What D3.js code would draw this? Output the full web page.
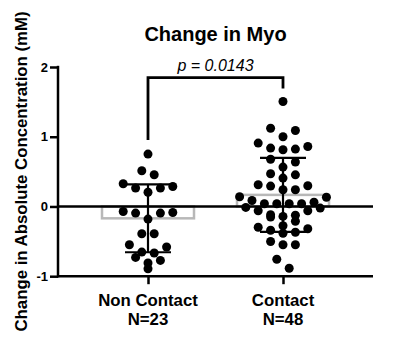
<!DOCTYPE html>
<html>
<head>
<meta charset="utf-8">
<script src="https://cdn.jsdelivr.net/npm/d3@7"></script>
<style>
  body { margin: 0; background: #fff; }
  svg text { font-family: Arial, "Liberation Sans", Helvetica, sans-serif; }
</style>
</head>
<body>
<div id="canvas"></div>
<script>
'use strict';

/* Data */
const categories = ['Non Contact', 'Contact'];
const groupSizes = ['N=23', 'N=48'];

const nonContactValues = [
    0.751, 0.512, 0.455, 0.325, 0.264, 0.204, 0.264, 0.287,
    -0.086, -0.095, -0.181, -0.095, -0.072, -0.391, -0.391,
    -0.549, -0.582, -0.654, -0.668, -0.731, -0.774, -0.811, -0.893
];

const contactValues = [
    1.505, 1.121, 1.090, 0.999, 0.837, 0.813, 0.860, 0.909, 0.823,
    0.677, 0.637, 0.565, 0.454, 0.469, 0.407,
    0.297, 0.239, 0.239, 0.292, 0.311,
    0.060, 0.132, 0.139, 0.086, 0.039, 0.039, 0.039, 0.039,
    -0.014, -0.062, -0.062, -0.023, -0.126, -0.143, -0.152, -0.119,
    -0.212, -0.277, -0.298, -0.384, -0.341, -0.320, -0.370,
    -0.549, -0.549, -0.502, -0.757, -0.886
];

const yTicks = [-1, 0, 1, 2];
const titleText = 'Change in Myo';
const yLabelText = 'Change in Absolute Concentration (mM)';
const pValueText = 'p = 0.0143';

/* Layout */
const config = {
    width: 400,
    height: 345,
    xLeft: 58,
    xRight: 373,
    yTop: 67,
    yBottom: 276.2,
    dotRadius: 4.5,
    rowSpacing: 12.4,
    rowHeight: 9.3,
    barWidth: 92,
    capWidth: 46
};

const groups = categories.map((name, i) => ({
    name: name,
    size: groupSizes[i],
    values: i === 0 ? nonContactValues : contactValues
}));

groups.forEach(g => {
    g.mean = d3.mean(g.values);
    g.sd = d3.deviation(g.values);
    g.max = d3.max(g.values);
});

const x = d3.scalePoint()
    .domain(categories)
    .range([config.xLeft, config.xRight])
    .padding(2 / 3);

const y = d3.scaleLinear()
    .domain([-1, 2])
    .range([config.yBottom, config.yTop]);

const svg = d3.select('#canvas').append('svg')
    .attr('width', config.width)
    .attr('height', config.height);

/* Scatter layout in rows, like the dot plot of the original */
function swarm(values) {
    const sorted = values.map(v => v).sort((a, b) => b - a);
    const rows = [];
    let row = [];
    sorted.forEach(v => {
        if (row.length && y(v) - y(row[0]) >= config.rowHeight) {
            rows.push(row);
            row = [];
        }
        row.push(v);
    });
    if (row.length) rows.push(row);

    const out = [];
    rows.forEach(r => {
        const asc = r.slice().sort((a, b) => a - b);
        const n = asc.length;
        const slots = [];
        if (n % 2 === 1) {
            slots.push(0);
            for (let k = 1; slots.length < n; k++) {
                slots.push(k);
                if (slots.length < n) slots.push(-k);
            }
        } else {
            for (let k = 0.5; slots.length < n; k++) {
                slots.push(k);
                if (slots.length < n) slots.push(-k);
            }
        }
        asc.forEach((v, i) => out.push({ value: v, slot: slots[i] }));
    });
    return out;
}

/* Bars (mean) */
svg.append('g')
    .selectAll('rect')
    .data(groups)
    .join('rect')
    .attr('x', d => x(d.name) - config.barWidth / 2)
    .attr('width', config.barWidth)
    .attr('y', d => Math.min(y(d.mean), y(0)))
    .attr('height', d => Math.abs(y(d.mean) - y(0)))
    .attr('fill', 'none')
    .attr('stroke', '#b8b8b8')
    .attr('stroke-width', 2.5);

/* Zero line */
svg.append('line')
    .attr('x1', config.xLeft)
    .attr('x2', config.xRight)
    .attr('y1', y(0))
    .attr('y2', y(0))
    .attr('stroke', '#000')
    .attr('stroke-width', 2.5);

/* Dots */
groups.forEach(g => {
    svg.append('g')
        .selectAll('circle')
        .data(swarm(g.values))
        .join('circle')
        .attr('cx', d => x(g.name) + d.slot * config.rowSpacing)
        .attr('cy', d => y(d.value))
        .attr('r', config.dotRadius)
        .attr('fill', '#000');
});

/* Error bars (mean +/- SD) */
const err = svg.append('g')
    .attr('stroke', '#000')
    .attr('stroke-width', 2.2);

groups.forEach(g => {
    const cx = x(g.name);
    err.append('line')
        .attr('x1', cx).attr('x2', cx)
        .attr('y1', y(g.mean + g.sd)).attr('y2', y(g.mean - g.sd));
    [g.mean + g.sd, g.mean - g.sd].forEach(v => {
        err.append('line')
            .attr('x1', cx - config.capWidth / 2)
            .attr('x2', cx + config.capWidth / 2)
            .attr('y1', y(v)).attr('y2', y(v));
    });
});

/* Axes */
const yAxis = svg.append('g')
    .attr('transform', `translate(${config.xLeft},0)`)
    .call(d3.axisLeft(y).tickValues(yTicks).tickSize(8).tickPadding(2).tickFormat(d => String(d)));

const xAxis = svg.append('g')
    .attr('transform', `translate(0,${config.yBottom})`)
    .call(d3.axisBottom(x).tickSize(8).tickFormat(''));

[yAxis, xAxis].forEach(ax => {
    ax.select('.domain').remove();
    ax.selectAll('.tick line').attr('stroke', '#000').attr('stroke-width', 2.5);
});

yAxis.selectAll('.tick text')
    .attr('fill', '#000')
    .style('font-size', '13px')
    .style('font-weight', 'bold');

svg.append('line')
    .attr('x1', config.xLeft).attr('x2', config.xLeft)
    .attr('y1', config.yTop - 1.2).attr('y2', config.yBottom + 1.2)
    .attr('stroke', '#000').attr('stroke-width', 2.5);

svg.append('line')
    .attr('x1', config.xLeft).attr('x2', config.xRight)
    .attr('y1', config.yBottom).attr('y2', config.yBottom)
    .attr('stroke', '#000').attr('stroke-width', 2.5);

/* Category labels */
const catLabels = svg.append('g')
    .selectAll('text')
    .data(groups)
    .join('text')
    .attr('x', d => x(d.name))
    .attr('text-anchor', 'middle')
    .style('font-size', '16.8px')
    .style('font-weight', 'bold');

catLabels.append('tspan')
    .attr('x', d => x(d.name))
    .attr('y', 306)
    .text(d => d.name);

catLabels.append('tspan')
    .attr('x', d => x(d.name))
    .attr('y', 325)
    .text(d => d.size);

/* Y label */
svg.append('text')
    .attr('transform', 'translate(27,171.5) rotate(-90)')
    .attr('text-anchor', 'middle')
    .style('font-size', '16.8px')
    .style('font-weight', 'bold')
    .text(yLabelText);

/* Title */
svg.append('text')
    .attr('x', 215.5)
    .attr('y', 41)
    .attr('text-anchor', 'middle')
    .style('font-size', '20px')
    .style('font-weight', 'bold')
    .text(titleText);

/* Significance bracket */
const x1 = x(categories[0]);
const x2 = x(categories[1]);
const bracketY = 77.7;

svg.append('path')
    .attr('d', `M${x1},${y(groups[0].max) - 14} V${bracketY} H${x2} V${y(groups[1].max) - 13}`)
    .attr('fill', 'none')
    .attr('stroke', '#000')
    .attr('stroke-width', 2.8);

svg.append('text')
    .attr('x', (x1 + x2) / 2)
    .attr('y', 70.5)
    .attr('text-anchor', 'middle')
    .style('font-size', '16px')
    .style('font-style', 'italic')
    .text(pValueText);
</script>
</body>
</html>
